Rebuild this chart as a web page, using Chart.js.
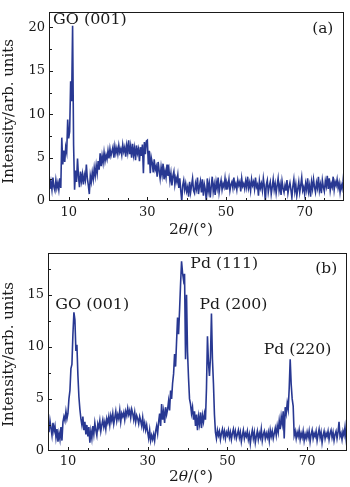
<!DOCTYPE html>
<html><head><meta charset="utf-8">
<script src="https://cdn.jsdelivr.net/npm/chart.js@4.4.1/dist/chart.umd.min.js"></script>
<style>
html,body{margin:0;padding:0;background:#fff;width:350px;height:487px;overflow:hidden}
.p{position:absolute;left:0;width:350px}
canvas{display:block}
</style></head><body>
<div class="p" style="top:0;height:240px"><canvas id="ca" width="350" height="240"></canvas></div>
<div class="p" style="top:240px;height:247px"><canvas id="cb" width="350" height="247"></canvas></div>
<script>
// sampling grid of the diffractograms (2θ in degrees)
const X_START = 5, X_STEP = 0.25;

// panel (a): GO
const intensityA = [
 2.5,1.4,2.2,1.3,2.7,1.6,1.2,2.4,1.5,2.1,1.3,2.6,1.5,7.3,4.2,5.8,4.5,6.2,5.6,9.4,
 7.2,8.0,13.8,11.5,20.2,6.5,1.3,3.5,2.2,4.9,2.8,1.6,3.4,2.3,3.1,1.9,3.0,2.4,4.2,2.6,
 1.8,0.8,2.9,2.2,3.3,2.5,3.8,2.9,4.1,3.2,4.6,3.6,5.5,4.0,5.2,4.4,5.6,4.6,5.3,4.8,
 5.8,4.9,6.0,5.2,5.7,6.2,5.0,6.3,5.5,6.1,5.4,6.4,5.6,6.0,5.3,6.5,5.7,6.2,5.1,6.4,
 5.6,7.0,5.4,6.3,5.0,6.6,5.3,6.1,4.7,6.4,5.5,6.0,4.6,6.2,5.2,6.5,3.2,6.8,5.4,6.9,
 7.0,4.2,5.8,3.2,5.0,4.4,3.3,4.8,3.6,4.0,2.8,4.5,3.5,2.6,3.9,3.0,4.3,2.5,3.4,2.7,
 4.2,2.9,3.6,2.3,3.2,1.8,2.9,3.4,1.9,2.7,2.2,3.0,1.5,2.6,1.2,0.0,1.8,2.4,1.3,2.0,
 1.1,1.6,0.5,2.2,1.0,1.8,2.6,1.2,0.9,2.0,1.4,2.7,0.8,1.7,2.3,1.0,2.5,0.6,1.9,1.3,
 0.0,2.6,1.2,2.0,0.4,1.7,2.8,1.1,1.9,0.7,2.2,1.5,2.7,1.0,1.8,2.4,1.3,2.0,1.6,2.6,
 1.4,2.1,1.7,2.5,1.2,1.9,2.2,1.5,2.7,1.6,2.0,1.3,2.4,1.8,2.2,1.1,2.6,1.7,2.0,1.4,
 2.3,1.6,2.8,1.5,2.1,1.2,2.5,1.8,2.2,1.4,2.7,1.6,1.9,0.6,2.3,1.5,2.0,1.2,2.6,1.7,
 0.0,1.9,2.4,1.0,1.7,2.2,0.8,1.6,2.5,1.3,2.0,0.9,1.8,2.6,1.2,1.9,0.7,2.3,1.5,1.0,
 1.8,1.2,2.4,0.9,1.6,2.1,1.3,0.4,1.7,2.5,1.1,1.9,0.6,1.4,2.2,1.0,1.8,2.7,1.2,1.6,
 0.8,2.0,1.3,2.6,1.1,1.8,0.5,2.2,1.4,2.5,1.6,1.0,2.1,1.5,2.8,1.2,1.9,0.9,2.4,1.6,
 1.1,2.3,1.7,2.9,1.4,2.6,1.2,2.0,1.6,2.8,1.3,2.2,1.8,2.5,1.5,2.1,1.0,1.9,1.4,2.2,
 3.5
];

// panel (b): Pd/GO
const intensityB = [
 2.6,1.8,2.9,2.2,1.5,2.7,1.9,2.4,1.3,2.1,0.9,1.7,1.1,2.3,1.0,2.8,3.3,2.9,3.8,3.1,
 3.6,5.0,5.8,7.9,8.3,11.2,13.3,12.6,9.6,10.2,7.3,5.2,4.0,3.1,2.5,3.3,2.0,2.8,1.6,2.5,
 1.4,2.3,0.8,1.9,1.2,2.4,1.6,2.7,2.0,1.5,2.6,2.2,2.9,1.9,2.5,3.0,2.3,2.8,2.1,3.1,
 2.7,3.3,2.5,3.4,2.9,3.6,2.6,3.2,3.8,2.9,3.5,3.1,3.9,2.8,3.6,3.3,3.7,3.0,3.8,3.4,
 4.1,3.5,3.9,3.2,4.0,3.6,3.0,3.7,2.8,3.4,3.1,2.6,3.3,2.9,2.4,3.2,2.2,2.7,2.0,2.5,
 1.8,1.2,2.0,1.0,1.5,1.1,1.6,1.0,1.9,2.4,1.7,2.8,3.6,2.4,4.5,3.0,3.8,2.7,4.2,3.5,
 4.0,4.8,3.9,5.8,5.0,6.5,7.4,9.3,8.1,10.5,12.8,11.2,13.5,16.0,18.2,17.1,16.4,17.0,8.8,15.0,
 9.5,7.0,5.0,4.5,3.6,4.2,3.0,3.8,2.4,3.5,2.0,3.3,2.6,3.7,2.2,3.4,2.8,3.6,3.0,6.0,
 11.0,8.5,7.2,9.0,13.2,8.8,6.5,3.5,1.8,1.2,2.0,1.5,1.9,1.1,1.7,2.1,1.4,1.9,1.2,1.8,
 1.5,2.0,1.3,1.8,1.1,1.7,2.1,1.4,1.9,1.2,1.6,2.0,1.3,1.8,0.9,1.5,2.0,1.2,1.7,1.4,
 1.9,1.1,1.6,0.7,1.5,2.0,1.2,1.8,0.8,1.4,1.9,1.1,1.7,1.3,2.1,1.0,1.6,1.9,1.2,1.7,
 1.3,1.8,1.0,2.0,1.4,1.9,1.2,1.7,2.2,1.5,2.4,1.8,2.9,2.1,3.3,2.6,3.8,1.2,4.2,3.6,
 4.6,4.0,6.0,8.8,6.4,5.0,4.3,1.5,1.9,1.2,1.8,1.4,2.0,1.1,1.7,1.3,1.9,1.0,1.6,1.2,
 1.8,1.3,1.9,0.9,1.6,2.0,1.2,1.7,1.4,1.9,1.0,1.6,2.1,1.3,1.8,0.8,1.5,1.9,1.2,1.7,
 1.4,1.9,1.1,1.7,2.0,1.3,1.8,1.0,1.6,1.9,1.2,1.8,2.8,1.4,1.7,1.1,1.9,1.5,2.3,1.2,
 0.3
];

// ticks
const xTickLabels = [10, 30, 50, 70];
const xMinorTicks = [10, 15, 20, 25, 30, 35, 40, 45, 50, 55, 60, 65, 70, 75];
const yTickLabelsA = [0, 5, 10, 15, 20];
const yMinorTicksA = [2.5, 5, 7.5, 10, 12.5, 15, 17.5, 20];
const yTickLabelsB = [0, 5, 10, 15];
const yMinorTicksB = [2.5, 5, 7.5, 10, 12.5, 15, 17.5];

// texts
const yTitle = 'Intensity/arb. units';
const panelTagA = '(a)', panelTagB = '(b)';
const peakNamesA = ['GO (001)'];
const peakNamesB = ['GO (001)', 'Pd (111)', 'Pd (200)', 'Pd (220)'];

const LINE = '#283892';
const INK = '#1a1a1a';
const FAM = '"DejaVu Serif", "Liberation Serif", serif';

function toPoints(arr){ return arr.map((v,i)=>({x: X_START + i*X_STEP, y: v})); }

function stretchedText(ctx, text, x, y, sx){
  ctx.save();
  ctx.translate(x, y);
  ctx.scale(sx, 1);
  ctx.fillText(text, 0, 0);
  ctx.restore();
}

function makePanel(id, values, g){
  const deco = {
    id: 'deco' + id,
    afterDraw(chart){
      const ctx = chart.ctx, ca = chart.chartArea;
      const xs = chart.scales.x, ys = chart.scales.y;
      ctx.save();
      ctx.strokeStyle = INK; ctx.lineWidth = 1;
      // frame
      ctx.strokeRect(Math.round(ca.left)+0.5, Math.round(ca.top)+0.5,
                     Math.round(ca.right-ca.left)-1, Math.round(ca.bottom-ca.top)-1);
      // inward ticks
      ctx.beginPath();
      xMinorTicks.forEach(v=>{
        const px = Math.round(xs.getPixelForValue(v))+0.5;
        const len = xTickLabels.includes(v) ? 4 : 3;
        ctx.moveTo(px, ca.bottom); ctx.lineTo(px, ca.bottom-len);
      });
      g.yMinor.forEach(v=>{
        const py = Math.round(ys.getPixelForValue(v))+0.5;
        const len = g.yLabels.includes(v) ? 4 : 3;
        ctx.moveTo(ca.left, py); ctx.lineTo(ca.left+len, py);
      });
      ctx.stroke();
      // peak annotations and panel tag (data coordinates)
      ctx.fillStyle = INK;
      ctx.textAlign = 'center'; ctx.textBaseline = 'middle';
      ctx.font = '14px ' + FAM;
      g.notes.forEach(n=>{
        stretchedText(ctx, n.text, xs.getPixelForValue(n.x), ys.getPixelForValue(n.y), n.sx);
      });
      // y title
      ctx.save();
      ctx.font = '14.5px ' + FAM;
      ctx.translate(g.yTitleX, (ca.top+ca.bottom)/2 + g.yTitleDy);
      ctx.rotate(-Math.PI/2);
      ctx.scale(1.03, 1);
      ctx.textAlign = 'center'; ctx.textBaseline = 'middle';
      ctx.fillText(yTitle, 0, 0);
      ctx.restore();
      // x title: 2θ/(°) with italic theta
      const sx = 1.1;
      const parts = [['2','14px '+FAM],['θ','italic 14px '+FAM],['/(°)','14px '+FAM]];
      let w = 0;
      parts.forEach(p=>{ ctx.font = p[1]; w += ctx.measureText(p[0]).width; });
      let x = g.xTitleX - w*sx/2;
      ctx.textAlign = 'left'; ctx.textBaseline = 'middle';
      parts.forEach(p=>{
        ctx.font = p[1];
        stretchedText(ctx, p[0], x, g.xTitleY, sx);
        x += ctx.measureText(p[0]).width * sx;
      });
      ctx.restore();
    }
  };
  return new Chart(document.getElementById(id), {
    type: 'line',
    data: { datasets: [{ data: toPoints(values), borderColor: LINE, borderWidth: 1.6,
                         pointRadius: 0, tension: 0, fill: false }] },
    options: {
      responsive: false, animation: false, devicePixelRatio: 1,
      layout: { padding: { left: 0, right: g.padRight, top: g.padTop, bottom: 0 } },
      plugins: { legend: { display: false }, tooltip: { enabled: false } },
      scales: {
        x: {
          type: 'linear', min: 5, max: 80,
          afterBuildTicks: s => { s.ticks = xTickLabels.map(v => ({ value: v })); },
          afterFit: s => { s.height = g.xAxisH; },
          grid: { display: false, drawTicks: false },
          border: { display: false },
          ticks: { font: { family: FAM, size: 13 }, color: INK, padding: g.xTickPad,
                   maxRotation: 0, autoSkip: false }
        },
        y: {
          type: 'linear', min: 0, max: g.yMax,
          afterBuildTicks: s => { s.ticks = g.yLabels.map(v => ({ value: v })); },
          afterFit: s => { s.width = g.yAxisW; },
          grid: { display: false, drawTicks: false },
          border: { display: false },
          ticks: { font: { family: FAM, size: 13 }, color: INK, padding: 4, autoSkip: false }
        }
      }
    },
    plugins: [deco]
  });
}

makePanel('ca', intensityA, {
  padRight: 6, padTop: 3, xAxisH: 39, yAxisW: 49, yMax: 21.8, xTickPad: 4,
  yLabels: yTickLabelsA, yMinor: yMinorTicksA,
  yTitleX: 9, yTitleDy: 5, xTitleX: 191, xTitleY: 230,
  notes: [
    { text: peakNamesA[0], x: 15.4, y: 20.8, sx: 1.14 },
    { text: panelTagA, x: 74.6, y: 19.8, sx: 1.1 }
  ]
});

makePanel('cb', intensityB, {
  padRight: 3, padTop: 13, xAxisH: 36, yAxisW: 48, yMax: 19, xTickPad: 3,
  yLabels: yTickLabelsB, yMinor: yMinorTicksB,
  yTitleX: 9, yTitleDy: 2.5, xTitleX: 191, xTitleY: 237,
  notes: [
    { text: peakNamesB[0], x: 16.1, y: 14.0, sx: 1.14 },
    { text: peakNamesB[1], x: 49.2, y: 17.9, sx: 1.12 },
    { text: peakNamesB[2], x: 51.5, y: 14.0, sx: 1.12 },
    { text: peakNamesB[3], x: 67.6, y: 9.7, sx: 1.12 },
    { text: panelTagB, x: 74.8, y: 17.4, sx: 1.1 }
  ]
});
</script>
</body></html>
